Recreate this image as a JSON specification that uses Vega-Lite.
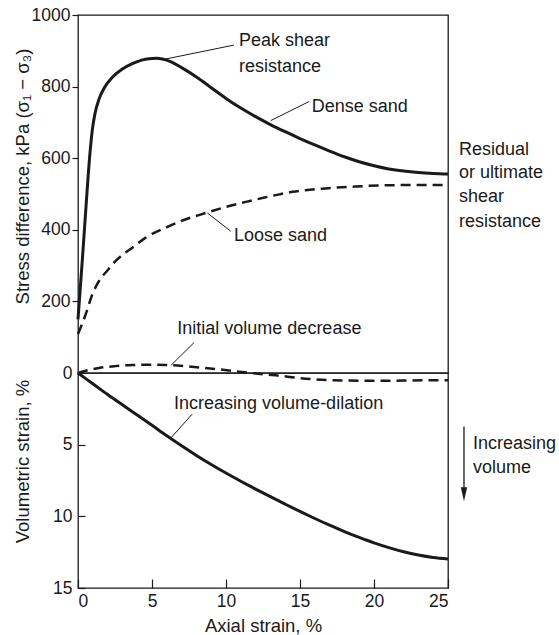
{
  "$schema": "https://vega.github.io/schema/vega-lite/v6.json",
  "padding": {"left": 12, "top": 5, "right": 5, "bottom": 2},
  "spacing": 0,
  "bounds": "flush",
  "config": {
    "font": "Liberation Sans",
    "view": {"stroke": "#1a1a1a", "strokeWidth": 1.3},
    "axis": {"labelFontSize": 17.5, "titleFontSize": 18.5, "labelColor": "#1a1a1a", "titleColor": "#1a1a1a", "titleFontWeight": "normal", "domain": false, "grid": false, "tickColor": "#1a1a1a", "tickWidth": 1.2, "labelFont": "Liberation Sans", "titleFont": "Liberation Sans", "format": "d"},
    "text": {"font": "Liberation Sans", "fontSize": 18, "color": "#1a1a1a", "align": "left", "baseline": "middle"}
  },
  "datasets": {
    "dense": [
      {"strain": 0, "value": 150}, {"strain": 0.3, "value": 320}, {"strain": 0.55, "value": 470}, {"strain": 0.8, "value": 610},
      {"strain": 0.97, "value": 680}, {"strain": 1.15, "value": 725}, {"strain": 1.42, "value": 765}, {"strain": 1.8, "value": 798},
      {"strain": 2.32, "value": 826}, {"strain": 3, "value": 849}, {"strain": 3.67, "value": 864}, {"strain": 4.3, "value": 874},
      {"strain": 4.8, "value": 878}, {"strain": 5.3, "value": 879}, {"strain": 5.7, "value": 877}, {"strain": 6.3, "value": 869},
      {"strain": 7, "value": 853}, {"strain": 8, "value": 827}, {"strain": 9, "value": 797}, {"strain": 10, "value": 767},
      {"strain": 11, "value": 740}, {"strain": 12, "value": 716}, {"strain": 13, "value": 694}, {"strain": 14, "value": 674},
      {"strain": 15, "value": 655}, {"strain": 16, "value": 637}, {"strain": 17, "value": 620}, {"strain": 18, "value": 604},
      {"strain": 19, "value": 590}, {"strain": 20, "value": 579}, {"strain": 21, "value": 570}, {"strain": 22, "value": 564},
      {"strain": 23, "value": 560}, {"strain": 24, "value": 557.5}, {"strain": 25, "value": 556}
    ],
    "loose": [
      {"strain": 0, "value": 109}, {"strain": 0.52, "value": 164}, {"strain": 0.97, "value": 220}, {"strain": 1.42, "value": 257},
      {"strain": 2, "value": 287}, {"strain": 2.55, "value": 313}, {"strain": 3.1, "value": 333}, {"strain": 3.67, "value": 350},
      {"strain": 4.5, "value": 376}, {"strain": 5.93, "value": 406}, {"strain": 7.2, "value": 428}, {"strain": 8.63, "value": 447},
      {"strain": 10, "value": 464}, {"strain": 11.55, "value": 480}, {"strain": 12.6, "value": 490}, {"strain": 13.6, "value": 499},
      {"strain": 14.5, "value": 506}, {"strain": 15.5, "value": 511}, {"strain": 16.5, "value": 515}, {"strain": 17.5, "value": 518},
      {"strain": 18.76, "value": 521}, {"strain": 20.56, "value": 524}, {"strain": 22.5, "value": 525}, {"strain": 25, "value": 525}
    ],
    "dilation": [
      {"strain": 0, "value": 0}, {"strain": 1, "value": 0.75}, {"strain": 2, "value": 1.5}, {"strain": 3, "value": 2.22},
      {"strain": 4, "value": 2.93}, {"strain": 5, "value": 3.65}, {"strain": 6, "value": 4.38}, {"strain": 7, "value": 5.08},
      {"strain": 8, "value": 5.75}, {"strain": 9, "value": 6.38}, {"strain": 10, "value": 6.98}, {"strain": 11, "value": 7.55},
      {"strain": 12, "value": 8.1}, {"strain": 13, "value": 8.63}, {"strain": 14, "value": 9.15}, {"strain": 15, "value": 9.66},
      {"strain": 16, "value": 10.15}, {"strain": 17, "value": 10.62}, {"strain": 18, "value": 11.06}, {"strain": 19, "value": 11.47},
      {"strain": 20, "value": 11.85}, {"strain": 21, "value": 12.18}, {"strain": 22, "value": 12.47}, {"strain": 23, "value": 12.7},
      {"strain": 24, "value": 12.87}, {"strain": 25, "value": 12.97}
    ],
    "contraction": [
      {"strain": 0, "value": 0}, {"strain": 0.7, "value": -0.2}, {"strain": 1.42, "value": -0.35}, {"strain": 2.5, "value": -0.48},
      {"strain": 3.67, "value": -0.56}, {"strain": 4.8, "value": -0.58}, {"strain": 5.9, "value": -0.56}, {"strain": 7.5, "value": -0.45},
      {"strain": 9.3, "value": -0.28}, {"strain": 10.5, "value": -0.14}, {"strain": 11.55, "value": -0.02}, {"strain": 12.6, "value": 0.1},
      {"strain": 13.6, "value": 0.19}, {"strain": 15, "value": 0.36}, {"strain": 16.06, "value": 0.45}, {"strain": 18, "value": 0.52},
      {"strain": 20.56, "value": 0.54}, {"strain": 22.5, "value": 0.52}, {"strain": 25, "value": 0.5}
    ],
    "upperLabels": [
      {"x": 10.88, "y": 926, "label": "Peak shear"},
      {"x": 10.88, "y": 856, "label": "resistance"},
      {"x": 15.79, "y": 742, "label": "Dense sand"},
      {"x": 25.74, "y": 624, "label": "Residual"},
      {"x": 25.74, "y": 558, "label": "or ultimate"},
      {"x": 25.74, "y": 491, "label": "shear"},
      {"x": 25.74, "y": 421, "label": "resistance"},
      {"x": 10.54, "y": 382, "label": "Loose sand"},
      {"x": 6.71, "y": 123, "label": "Initial volume decrease"}
    ],
    "upperLeaders": [
      {"x": 5.68, "y": 875, "x2": 10.54, "y2": 916},
      {"x": 13.02, "y": 705, "x2": 15.6, "y2": 758},
      {"x": 8.74, "y": 447, "x2": 10.32, "y2": 396},
      {"x": 6.3, "y": 22, "x2": 7.84, "y2": 85}
    ],
    "lowerLabels": [
      {"x": 6.49, "y": 2.13, "label": "Increasing volume-dilation"},
      {"x": 26.69, "y": 4.97, "label": "Increasing"},
      {"x": 26.69, "y": 6.64, "label": "volume"}
    ],
    "lowerLeaders": [
      {"x": 6.3, "y": 4.5, "x2": 7.72, "y2": 2.87}
    ],
    "arrow": [
      {"x": 26.08, "y": 3.73, "y2": 8.2, "head": 8.46}
    ]
  },
  "vconcat": [
    {
      "width": 370,
      "height": 358,
      "layer": [
        {
          "data": {"name": "dense"},
          "mark": {"type": "line", "color": "#1a1a1a", "strokeWidth": 3, "interpolate": "monotone"},
          "encoding": {
            "x": {"field": "strain", "type": "quantitative", "scale": {"domain": [0, 25], "nice": false}, "axis": null},
            "y": {"field": "value", "type": "quantitative", "scale": {"domain": [0, 1000], "nice": false},
              "axis": {"values": [200, 400, 600, 800, 1000], "tickSize": 6, "labelPadding": 2, "title": "Stress difference, kPa (σ₁ − σ₃)", "titleX": -56, "titleY": 161, "titleAngle": 270, "titleBaseline": "middle", "titleAlign": "center", "minExtent": 50, "maxExtent": 50}}
          }
        },
        {
          "data": {"name": "loose"},
          "mark": {"type": "line", "color": "#1a1a1a", "strokeWidth": 2.5, "strokeDash": [10, 6], "interpolate": "monotone"},
          "encoding": {
            "x": {"field": "strain", "type": "quantitative"},
            "y": {"field": "value", "type": "quantitative"}
          }
        },
        {
          "data": {"name": "upperLeaders"},
          "mark": {"type": "rule", "color": "#1a1a1a", "strokeWidth": 1},
          "encoding": {
            "x": {"field": "x", "type": "quantitative"},
            "y": {"field": "y", "type": "quantitative"},
            "x2": {"field": "x2"},
            "y2": {"field": "y2"}
          }
        },
        {
          "data": {"name": "upperLabels"},
          "mark": {"type": "text"},
          "encoding": {
            "x": {"field": "x", "type": "quantitative"},
            "y": {"field": "y", "type": "quantitative"},
            "text": {"field": "label"}
          }
        }
      ]
    },
    {
      "width": 370,
      "height": 215,
      "layer": [
        {
          "data": {"name": "dilation"},
          "mark": {"type": "line", "color": "#1a1a1a", "strokeWidth": 3, "interpolate": "monotone"},
          "encoding": {
            "x": {"field": "strain", "type": "quantitative", "scale": {"domain": [0, 25], "nice": false},
              "axis": {"values": [0, 5, 10, 15, 20, 25], "tickSize": -9, "labelPadding": 13, "title": "Axial strain, %", "titlePadding": 7}},
            "y": {"field": "value", "type": "quantitative", "scale": {"domain": [0, 15], "nice": false, "reverse": true},
              "axis": {"values": [0, 5, 10, 15], "tickSize": -7, "labelPadding": 13, "title": "Volumetric strain, %", "titleX": -56, "titleY": 88, "titleAngle": 270, "titleBaseline": "middle", "titleAlign": "center", "minExtent": 50, "maxExtent": 50}}
          }
        },
        {
          "data": {"name": "contraction"},
          "mark": {"type": "line", "color": "#1a1a1a", "strokeWidth": 2.5, "strokeDash": [10, 6], "interpolate": "monotone"},
          "encoding": {
            "x": {"field": "strain", "type": "quantitative"},
            "y": {"field": "value", "type": "quantitative"}
          }
        },
        {
          "data": {"name": "lowerLeaders"},
          "mark": {"type": "rule", "color": "#1a1a1a", "strokeWidth": 1},
          "encoding": {
            "x": {"field": "x", "type": "quantitative"},
            "y": {"field": "y", "type": "quantitative"},
            "x2": {"field": "x2"},
            "y2": {"field": "y2"}
          }
        },
        {
          "data": {"name": "arrow"},
          "mark": {"type": "rule", "color": "#1a1a1a", "strokeWidth": 1.3},
          "encoding": {
            "x": {"field": "x", "type": "quantitative"},
            "y": {"field": "y", "type": "quantitative"},
            "y2": {"field": "y2"}
          }
        },
        {
          "data": {"name": "arrow"},
          "mark": {"type": "point", "shape": "M-0.45,-1L0.45,-1L0,1Z", "filled": true, "color": "#1a1a1a", "size": 196, "opacity": 1},
          "encoding": {
            "x": {"field": "x", "type": "quantitative"},
            "y": {"field": "head", "type": "quantitative"}
          }
        },
        {
          "data": {"name": "lowerLabels"},
          "mark": {"type": "text"},
          "encoding": {
            "x": {"field": "x", "type": "quantitative"},
            "y": {"field": "y", "type": "quantitative"},
            "text": {"field": "label"}
          }
        }
      ]
    }
  ]
}
